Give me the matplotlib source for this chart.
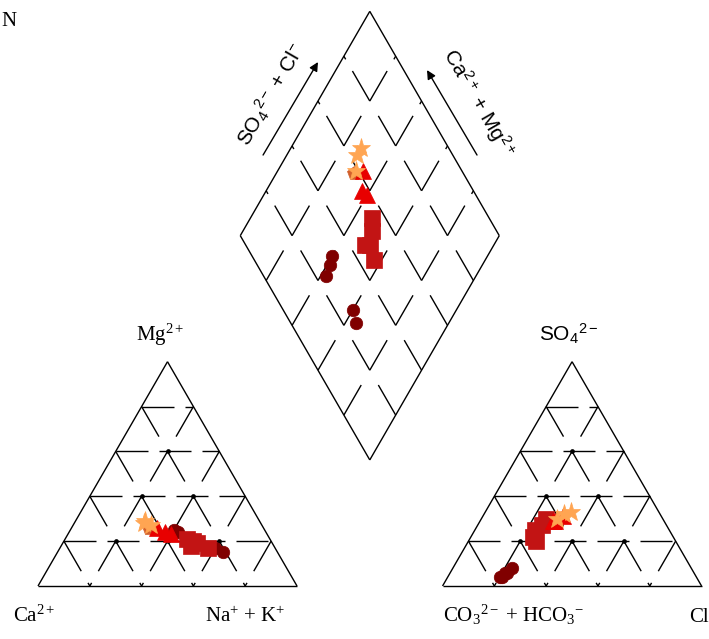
import numpy as np
import matplotlib
matplotlib.use('Agg')
import matplotlib.pyplot as plt

plt.rcParams['mathtext.fontset'] = 'custom'
plt.rcParams['mathtext.rm'] = 'Liberation Serif'
plt.rcParams['mathtext.it'] = 'Liberation Serif:italic'
plt.rcParams['mathtext.sf'] = 'Liberation Sans'

# major ions in meq %, one entry per sample
grupa = ['A', 'A', 'A', 'B', 'C', 'C', 'C', 'D', 'D', 'D', 'D', 'D', 'E', 'E', 'E', 'E', 'E']
ca = [45, 44, 43, 44, 41, 39, 37, 32, 30, 29, 32, 26, 35, 34, 23, 21, 35]
mg = [28, 29, 27, 26, 26, 24, 23, 21, 20, 19, 18, 17, 25, 24, 17, 15, 24]
nak = [27, 27, 30, 30, 33, 37, 40, 47, 50, 52, 50, 57, 40, 42, 60, 64, 41]
hco3 = [37, 34, 41, 42, 38, 43, 42, 45, 48, 52, 54, 54, 69, 76, 73, 75, 72]
so4 = [32, 33, 30, 28, 31, 29, 29, 30, 27, 25, 20, 22, 8, 4, 6, 4, 6]
cl = [31, 33, 29, 30, 31, 28, 29, 25, 25, 23, 26, 24, 23, 20, 21, 21, 22]

# drawing order and symbols per group
stil = {
    'E': dict(marker='o', color='#800000', ms=9),
    'D': dict(marker='s', color='#c21414', ms=11),
    'B': dict(marker='p', color='#d2602c', ms=10),
    'C': dict(marker='^', color='#e80000', ms=11),
    'A': dict(marker='*', color='#ffa552', ms=14),
}

g = 0.562           # gap between the two triangles (side = 1)
h = np.sqrt(3) / 2
pas = 0.2           # grid spacing
s32, s11 = 32 / 259, 11 / 259   # dash lengths of the horizontal grid lines

LW = 1.0


def linie(p, q, **kw):
    plt.plot([p[0], q[0]], [p[1], q[1]], color='k', lw=LW, solid_capstyle='butt', **kw)


def linie_punctata(p, q, on, off):
    p, q = np.array(p, float), np.array(q, float)
    L = np.linalg.norm(q - p)
    d = (q - p) / L
    t = 0.0
    while t < L:
        t2 = min(t + on, L)
        linie(p + d * t, p + d * t2)
        t = t2 + off


def segmente_noduri(start, end, n, frac_on=0.67, capat=0.07):
    # draws each node-to-node piece only on its first part
    start, end = np.array(start, float), np.array(end, float)
    for j in range(n):
        a = start + (end - start) * j / n
        b = start + (end - start) * (j + 1) / n
        linie(a, a + (b - a) * frac_on)
    b = end
    a = start + (end - start) * (n - 1) / n
    linie(b - (b - a) * capat, b)


def triunghi(x0):
    A = np.array([x0, 0.0])
    B = np.array([x0 + 1, 0.0])
    C = np.array([x0 + 0.5, h])
    for p, q in [(A, B), (B, C), (C, A)]:
        linie(p, q)
    noduri = []
    for k in range(1, 5):
        t = k * pas
        # horizontal
        linie_punctata(A + t * (C - A), B + t * (C - B), s32, s11)
        # parallel to BC, from left side to base
        segmente_noduri(A + (1 - t) * (C - A), A + (1 - t) * (B - A), 5 - k)
        # parallel to AC, from right side to base
        segmente_noduri(B + (1 - t) * (C - B), B + (1 - t) * (A - B), 5 - k)
        for i in range(1, 5 - k):
            noduri.append(A + t * (C - A) + i * pas * (B - A))
    noduri = np.array(noduri)
    plt.plot(noduri[:, 0], noduri[:, 1], 'o', color='k', ms=3.4, mec='none')


def romb():
    Bd = np.array([1 + g / 2, g * h])
    u = np.array([-0.5, h])
    v = np.array([0.5, h])
    L, R, T = Bd + u, Bd + v, Bd + u + v
    for p, q in [(Bd, L), (L, T), (T, R), (R, Bd)]:
        linie(p, q)
    for k in range(1, 5):
        t = k * pas
        segmente_noduri(Bd + t * u, Bd + t * u + v, 5)
        segmente_noduri(Bd + t * v, Bd + t * v + u, 5)
    return Bd, u, v


fig = plt.figure(figsize=(7.09, 6.39), dpi=100)
ax = fig.add_axes([0, 0, 1, 1])
ax.set_xlim(-38 / 259, 671 / 259)
ax.set_ylim(-53 / 259, 586 / 259)
ax.axis('off')

triunghi(0.0)
triunghi(1 + g)
Bd, u, v = romb()

ca_a = np.array(ca, float)
mg_a = np.array(mg, float)
nak_a = np.array(nak, float)
hco3_a = np.array(hco3, float)
so4_a = np.array(so4, float)
cl_a = np.array(cl, float)
sc = ca_a + mg_a + nak_a
sa = hco3_a + so4_a + cl_a
fmg, fnak = mg_a / sc, nak_a / sc
fso4, fcl = so4_a / sa, cl_a / sa

gr = np.array(grupa)
for key, st in stil.items():
    m = gr == key
    kw = dict(ls='none', marker=st['marker'], color=st['color'], ms=st['ms'], mec=st['color'], mew=0.5)
    # cations
    plt.plot(fnak[m] + fmg[m] / 2, fmg[m] * h, **kw)
    # anions
    plt.plot(1 + g + fcl[m] + fso4[m] / 2, fso4[m] * h, **kw)
    # diamond
    a = 1 - fnak[m]
    b = fso4[m] + fcl[m]
    pts = Bd + np.outer(a, u) + np.outer(b, v)
    plt.plot(pts[:, 0], pts[:, 1], **kw)

serif = dict(family='Liberation Serif', fontsize=15)
sans = dict(family='Liberation Sans', fontsize=15)

ax.text(-0.143, 2.18, 'N', ha='left', va='center', **serif)
ax.text(0.47, 0.945, r'Mg$^{2+}$', ha='center', va='baseline', **serif)
ax.text(1 + g + 0.485, 0.945, r'SO$_\mathsf{4}$$^\mathsf{2-}$', ha='center', va='baseline', **sans)
ax.text(-0.097, -0.139, r'Ca$^{2+}$', ha='left', va='baseline', **serif)
ax.text(0.645, -0.139, r'Na$^{+}$ + K$^{+}$', ha='left', va='baseline', **serif)
ax.text(1.564, -0.139, r'CO$_3$$^{2-}$ + HCO$_3$$^{-}$', ha='left', va='baseline', **serif)
ax.text(2.59, -0.139, 'Cl', ha='right', va='baseline', **serif)

ax.text(0.90, 1.896, r'SO$_\mathsf{4}$$^\mathsf{2-}$ + Cl$^\mathsf{-}$', rotation=60,
        rotation_mode='anchor', ha='center', va='center', **sans)
ax.text(1.699, 1.865, r'Ca$^\mathsf{2+}$ + Mg$^\mathsf{2+}$', rotation=-60,
        rotation_mode='anchor', ha='center', va='center', **sans)

sageata = dict(arrowstyle='-|>', color='k', lw=1, mutation_scale=13, shrinkA=0, shrinkB=0)
ax.annotate('', xy=(1.081, 2.023), xytext=(0.869, 1.664), arrowprops=sageata)
ax.annotate('', xy=(1.502, 1.992), xytext=(1.695, 1.664), arrowprops=sageata)

fig.savefig('out.png', dpi=100)
